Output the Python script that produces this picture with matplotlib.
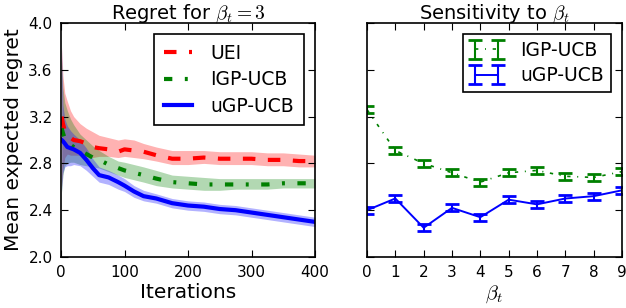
import matplotlib
matplotlib.use("Agg")
import matplotlib.pyplot as plt
import numpy as np

# ---- Left panel data (iterations) ----
iters = [1, 3, 6, 10, 15, 20, 30, 40, 50, 60, 75, 90, 100, 115, 130, 150, 175, 200, 225, 250, 275, 300, 325, 350, 375, 400]
uei_mean = [3.20, 3.14, 3.08, 3.05, 3.02, 3.00, 2.99, 2.97, 2.94, 2.93, 2.92, 2.90, 2.92, 2.91, 2.90, 2.87, 2.84, 2.84, 2.85, 2.84, 2.84, 2.84, 2.83, 2.83, 2.82, 2.82]
uei_lo = [2.60, 2.75, 2.85, 2.88, 2.87, 2.87, 2.87, 2.86, 2.85, 2.86, 2.86, 2.85, 2.86, 2.85, 2.84, 2.82, 2.79, 2.79, 2.80, 2.79, 2.79, 2.79, 2.78, 2.78, 2.77, 2.77]
uei_hi = [3.80, 3.55, 3.40, 3.33, 3.25, 3.20, 3.14, 3.10, 3.07, 3.04, 3.02, 3.00, 3.01, 3.00, 2.97, 2.94, 2.91, 2.91, 2.91, 2.90, 2.90, 2.90, 2.89, 2.89, 2.88, 2.87]

igp_mean = [3.10, 3.06, 3.01, 2.98, 2.96, 2.94, 2.91, 2.88, 2.85, 2.83, 2.79, 2.76, 2.74, 2.72, 2.70, 2.67, 2.64, 2.63, 2.62, 2.62, 2.62, 2.62, 2.62, 2.63, 2.63, 2.63]
igp_lo = [2.55, 2.70, 2.78, 2.80, 2.81, 2.81, 2.79, 2.78, 2.77, 2.76, 2.73, 2.70, 2.68, 2.66, 2.64, 2.61, 2.59, 2.58, 2.57, 2.57, 2.58, 2.58, 2.58, 2.59, 2.59, 2.59]
igp_hi = [3.70, 3.45, 3.32, 3.25, 3.18, 3.13, 3.05, 3.00, 2.95, 2.91, 2.86, 2.82, 2.81, 2.79, 2.77, 2.74, 2.70, 2.69, 2.68, 2.67, 2.67, 2.67, 2.67, 2.67, 2.67, 2.67]

ugp_mean = [3.00, 2.99, 2.97, 2.94, 2.93, 2.92, 2.89, 2.83, 2.76, 2.70, 2.68, 2.64, 2.61, 2.56, 2.52, 2.50, 2.46, 2.44, 2.43, 2.41, 2.40, 2.38, 2.36, 2.34, 2.32, 2.30]
ugp_lo = [2.56, 2.72, 2.77, 2.78, 2.78, 2.79, 2.78, 2.74, 2.69, 2.64, 2.62, 2.58, 2.56, 2.51, 2.48, 2.46, 2.42, 2.40, 2.39, 2.37, 2.36, 2.34, 2.32, 2.30, 2.28, 2.26]
ugp_hi = [3.80, 3.30, 3.18, 3.12, 3.08, 3.05, 3.00, 2.93, 2.84, 2.77, 2.74, 2.70, 2.67, 2.61, 2.57, 2.54, 2.50, 2.48, 2.47, 2.45, 2.44, 2.42, 2.40, 2.38, 2.36, 2.34]

# ---- Right panel data (beta_t) ----
betas = [0, 1, 2, 3, 4, 5, 6, 7, 8, 9]
igp_sens = [3.26, 2.91, 2.80, 2.72, 2.64, 2.72, 2.74, 2.69, 2.68, 2.73]
igp_err = [0.03, 0.03, 0.03, 0.03, 0.03, 0.03, 0.03, 0.03, 0.03, 0.03]
ugp_sens = [2.40, 2.50, 2.25, 2.42, 2.34, 2.49, 2.45, 2.50, 2.52, 2.57]
ugp_err = [0.03, 0.03, 0.03, 0.03, 0.03, 0.03, 0.03, 0.03, 0.03, 0.03]

yticks = [2.0, 2.4, 2.8, 3.2, 3.6, 4.0]
left_xticks = [0, 100, 200, 300, 400]

plt.rcParams['font.family'] = ['DejaVu Sans']
plt.rcParams['mathtext.fontset'] = 'cm'

fig = plt.figure(figsize=(6.26, 3.08), dpi=100)
ax1 = fig.add_axes([61/626, 1-257/308, 254/626, 234/308])
ax2 = fig.add_axes([367/626, 1-257/308, 255/626, 234/308])

for ax in (ax1, ax2):
    ax.tick_params(direction='in', top=True, right=True, length=5, labelsize=11, pad=6)
    for s in ax.spines.values():
        s.set_linewidth(1.2)

# left
ax1.fill_between(iters, uei_lo, uei_hi, color='red', alpha=0.3, lw=0)
ax1.fill_between(iters, igp_lo, igp_hi, color='green', alpha=0.3, lw=0)
ax1.fill_between(iters, ugp_lo, ugp_hi, color='blue', alpha=0.3, lw=0)
ax1.plot(iters, uei_mean, color='red', ls='--', lw=3, dashes=(3, 3), label='UEI')
ax1.plot(iters, igp_mean, color='green', ls='-.', lw=3, dashes=(2, 3, 0.7, 3), label='IGP-UCB')
ax1.plot(iters, ugp_mean, color='blue', ls='-', lw=3, label='uGP-UCB')
ax1.set_xlim(0, 400)
ax1.set_ylim(2.0, 4.0)
ax1.set_xticks(left_xticks)
ax1.set_yticks(yticks)
ax1.set_yticklabels([f"{v:.1f}" for v in yticks])
ax1.set_xlabel('Iterations', fontsize=14.5, labelpad=2)
ax1.set_ylabel('Mean expected regret', fontsize=14.5, labelpad=4)
ax1.set_title(r'Regret for $\beta_t = 3$', fontsize=14, pad=3)
leg1 = ax1.legend(loc='upper right', fontsize=13.5, fancybox=False, framealpha=1,
                  edgecolor='black', handlelength=1.5, handletextpad=1.0,
                  borderpad=0.5, labelspacing=0.4, borderaxespad=0.6)
leg1.get_frame().set_linewidth(1.2)

# right
ax2.errorbar(betas, igp_sens, yerr=igp_err, color='green', ls='-.', lw=1.2, dashes=(2, 4, 0.6, 4),
             capsize=5, capthick=2, elinewidth=1.5, label='IGP-UCB')
ax2.errorbar(betas, ugp_sens, yerr=ugp_err, color='blue', ls='-', lw=1.4,
             capsize=5, capthick=2, elinewidth=1.5, label='uGP-UCB')
ax2.set_xlim(0, 9)
ax2.set_ylim(2.0, 4.0)
ax2.set_xticks(betas)
ax2.set_yticks(yticks)
ax2.set_yticklabels([])
ax2.set_xlabel(r'$\beta_t$', fontsize=14.5, labelpad=2)
ax2.set_title(r'Sensitivity to $\beta_t$', fontsize=14, pad=3)
leg2 = ax2.legend(loc='upper right', fontsize=13.5, fancybox=False, framealpha=1,
                  edgecolor='black', numpoints=2, handlelength=1.8, handletextpad=0.9,
                  borderpad=0.35, labelspacing=0.35, borderaxespad=0.6)
leg2.get_frame().set_linewidth(1.2)

fig.savefig('out.png', dpi=100)
